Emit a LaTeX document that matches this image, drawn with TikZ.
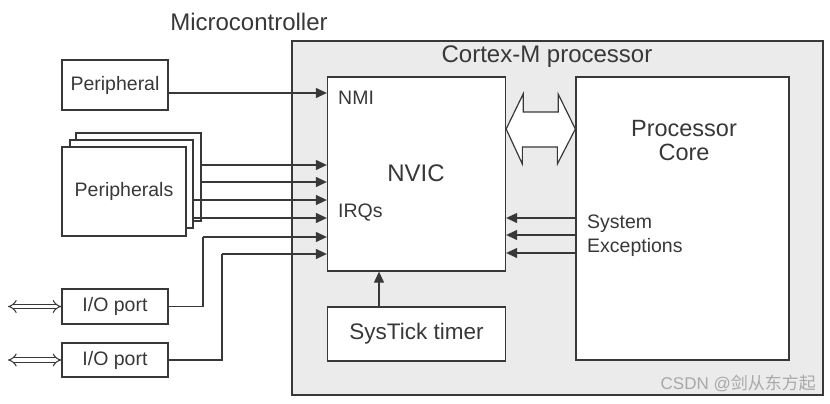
\documentclass[tikz,border=0pt]{standalone}
\usepackage{fontspec}
\setmainfont{Liberation Sans}
\newfontfamily\cjk{Noto Sans CJK SC}
\usetikzlibrary{arrows.meta}
\definecolor{ln}{HTML}{383838}
\definecolor{bg}{HTML}{EBEBEB}
\definecolor{wm}{HTML}{A8A8A8}
\begin{document}
\begin{tikzpicture}[x=1pt,y=-1pt,
  box/.style={draw=ln, line width=1.3pt, fill=white, inner sep=0pt, text=ln},
  arr/.style={draw=ln, line width=1.2pt, -{Triangle[length=11pt,width=10pt]}},
  wire/.style={draw=ln, line width=1.2pt},
  lbl/.style={text=ln, inner sep=0pt},
  fsmall/.style={font=\fontsize{19.5}{24}\selectfont},
  fmid/.style={font=\fontsize{22}{24}\selectfont},
  fbig/.style={font=\fontsize{24}{28}\selectfont},
  dblarr/.style={draw=ln, line width=1pt, double=white, double distance=3.5pt, {Implies[scale=1.4]}-{Implies[scale=1.4]}}
]
\useasboundingbox[fill=white] (0,0) rectangle (830,404);

% titles
\node[lbl, fbig] (mcutitle) at (249,22) {Microcontroller};

% outer processor box
\node[box, fill=bg, line width=2pt, minimum width=531, minimum height=354] (cpu) at (557.5,218) {};
\node[lbl, fbig] (cputitle) at (547,57) {Cortex-M processor};

% NVIC
\node[box, minimum width=178, minimum height=194] (nvic) at (416.5,174) {};
\node[lbl, fbig] (nvict) at (416,173) {NVIC};
\node[lbl, fsmall, anchor=west] (nmi) at (338,98) {NMI};
\node[lbl, fsmall, anchor=west] (irq) at (338,213) {IRQs};

% processor core
\node[box, minimum width=213, minimum height=283] (core) at (682.5,218.5) {};
\node[lbl, font=\fontsize{23.5}{24}\selectfont, align=center] (coret) at (684,141) {Processor\\Core};
\node[lbl, fsmall, align=left, anchor=west] (sysex) at (587,236) {System\\Exceptions};

% SysTick
\node[box, font=\fontsize{22.5}{24}\selectfont, minimum width=178, minimum height=54] (tick) at (416.5,334) {SysTick timer};
\draw[arr] (tick.north -| 379,0) -- (nvic.south -| 379,0);

% bus double arrow between NVIC and core
\coordinate (bl) at (nvic.east |- 0,129);
\coordinate (br) at (core.west |- 0,129);
\draw[draw=ln, line width=1.2pt, fill=white, line join=miter]
  (bl) -- ++(17,-35) -- ++(0,18) -- ++(35,0) -- ++(0,-18) -- (br)
  -- ++(-18,35) -- ++(0,-17) -- ++(-35,0) -- ++(0,17) -- cycle;

% system exception arrows
\foreach \yy in {218,235,253}{
  \draw[arr] (core.west |- 0,\yy) -- (nvic.east |- 0,\yy);
}

% single peripheral
\node[box, fsmall, minimum width=106, minimum height=50] (per) at (115,85) {Peripheral};
\draw[arr] (per.east |- 0,93) -- (nvic.west |- 0,93);

% stacked peripherals
\node[box, minimum width=125, minimum height=88] (pback) at (138.5,177) {};
\node[box, minimum width=123, minimum height=88] (pmid) at (131.5,184) {};
\node[box, fsmall, minimum width=124, minimum height=89] (pfront) at (124,191.5) {Peripherals};
\draw[arr] (pback.east |- 0,165) -- (nvic.west |- 0,165);
\draw[arr] (pback.east |- 0,182) -- (nvic.west |- 0,182);
\draw[arr] (pmid.east |- 0,200) -- (nvic.west |- 0,200);
\draw[arr] (pmid.east |- 0,218) -- (nvic.west |- 0,218);

% I/O ports
\node[box, fsmall, minimum width=106, minimum height=35] (io1) at (115,306.5) {I/O port};
\node[box, fsmall, minimum width=106, minimum height=34] (io2) at (115,360) {I/O port};
\coordinate (j1) at (203,237);
\coordinate (j2) at (222,254);
\draw[wire] (io1.east) -| (j1);
\draw[arr] (j1) -- (nvic.west |- j1);
\draw[wire] (io2.east) -| (j2);
\draw[arr] (j2) -- (nvic.west |- j2);
\coordinate (e1) at (8,306.5);
\coordinate (e2) at (8,360);
\draw[dblarr] (e1) -- (io1.west);
\draw[dblarr] (e2) -- (io2.west);

% watermark
\node[text=wm, inner sep=0pt, anchor=east, font=\fontsize{17}{20}\selectfont] (wmark) at (816,383) {CSDN @{\cjk 剑从东方起}};
\end{tikzpicture}
\end{document}
